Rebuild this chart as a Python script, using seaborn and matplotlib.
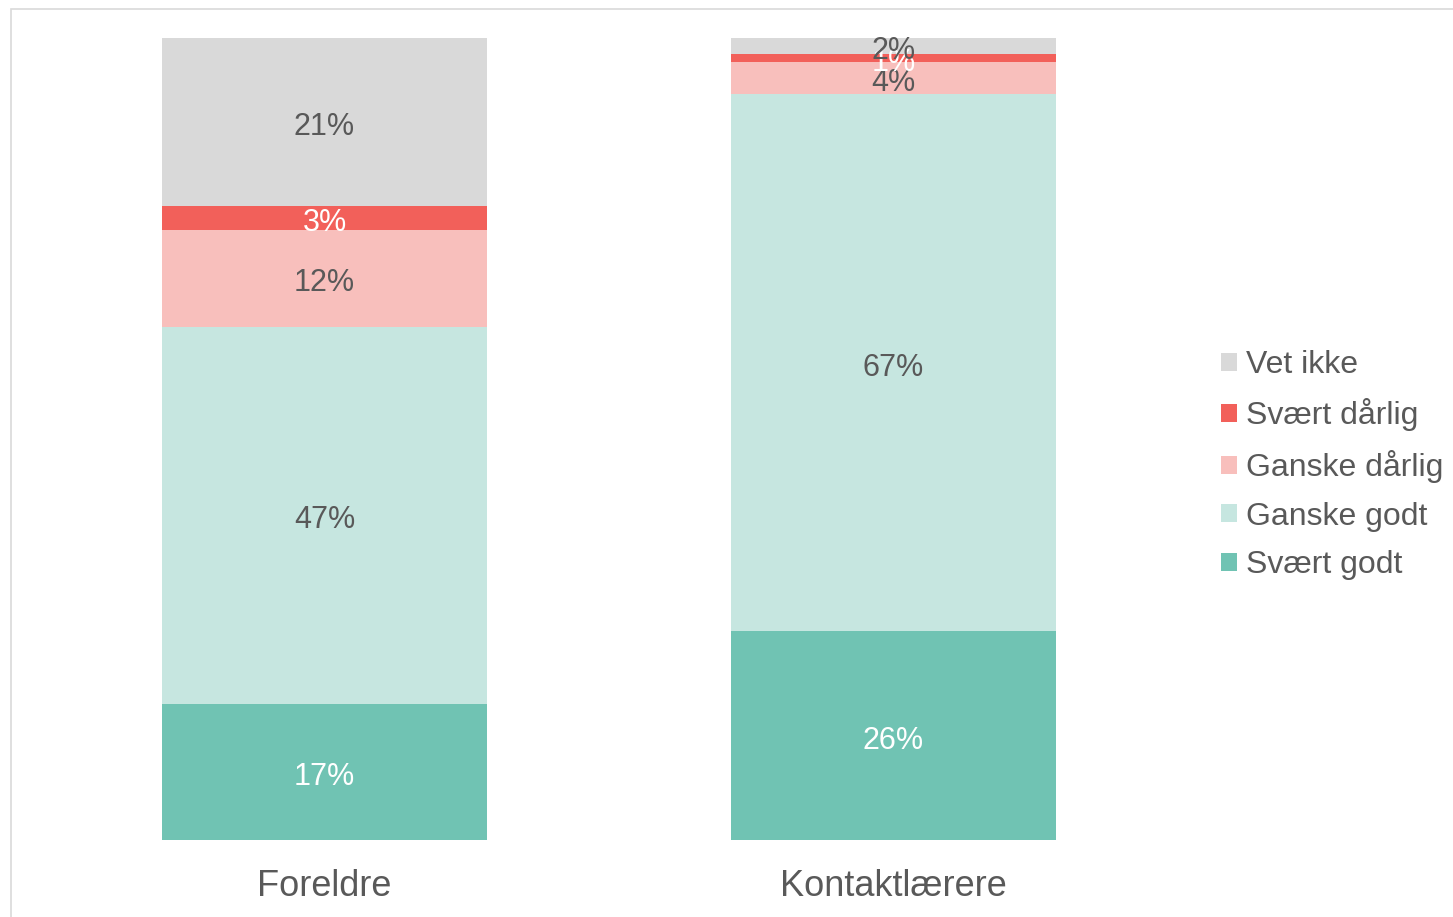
import pandas as pd
import numpy as np
import matplotlib.pyplot as plt
import seaborn as sns
from matplotlib.patches import Rectangle, Patch

# Data
grupper = ["Foreldre", "Kontaktlærere"]
kategorier = ["Svært godt", "Ganske godt", "Ganske dårlig", "Svært dårlig", "Vet ikke"]
svaert_godt = [17, 26]
ganske_godt = [47, 67]
ganske_darlig = [12, 4]
svaert_darlig = [3, 1]
vet_ikke = [21, 2]

farger = ["#70C3B3", "#C6E6E0", "#F8BFBC", "#F2605A", "#D9D9D9"]
tekstfarger = ["white", "#595959", "#595959", "white", "#595959"]
gra = "#595959"

verdier = [svaert_godt, ganske_godt, ganske_darlig, svaert_darlig, vet_ikke]
df = pd.DataFrame({
    "Gruppe": np.repeat([grupper], len(kategorier), axis=0).ravel(),
    "Kategori": np.repeat(kategorier, len(grupper)),
    "Andel": np.ravel(verdier),
})

sns.set_style("white")
plt.rcParams["font.family"] = ["Liberation Sans", "DejaVu Sans"]

fig = plt.figure(figsize=(14.53, 9.17), dpi=100)
ax = fig.add_axes([40 / 1453, 77 / 917, 1138 / 1453, 802 / 917])

# ramme rundt figuren
fig.patches.append(Rectangle((11 / 1453, -0.1), 1.2, 1.1 - 9 / 917, transform=fig.transFigure,
                             fill=False, edgecolor="#D9D9D9", linewidth=1.2))

bunn = np.zeros(len(grupper))
for kat, farge, tf in zip(kategorier, farger, tekstfarger):
    sub = df[df["Kategori"] == kat]
    sns.barplot(data=sub, x="Gruppe", y="Andel", order=grupper, color=farge,
                bottom=bunn, width=0.571, errorbar=None, ax=ax, saturation=1,
                linewidth=0)
    for i, v in enumerate(sub["Andel"].values):
        ax.annotate(f"{v}%", (i, bunn[i] + v / 2), xytext=(0, -3.5),
                    textcoords="offset points", ha="center", va="center",
                    fontsize=22, color=tf)
    bunn = bunn + sub["Andel"].values

ax.set_xlim(-0.5, 1.5)
ax.set_ylim(0, 100)
ax.set_xlabel("")
ax.set_ylabel("")
ax.set_yticks([])
ax.tick_params(axis="x", length=0, pad=21, labelsize=26, labelcolor=gra)
sns.despine(ax=ax, left=True, bottom=True)

handles = [Patch(facecolor=f, edgecolor="none") for f in farger][::-1]
fig.legend(handles, kategorier[::-1], loc="center left",
           bbox_to_anchor=(1192 / 1453, 1 - 465 / 917), frameon=False,
           fontsize=23, labelcolor=gra, handlelength=0.5, handleheight=0.5,
           handletextpad=0.28, labelspacing=0.58)

fig.savefig("out.png", dpi=100)
